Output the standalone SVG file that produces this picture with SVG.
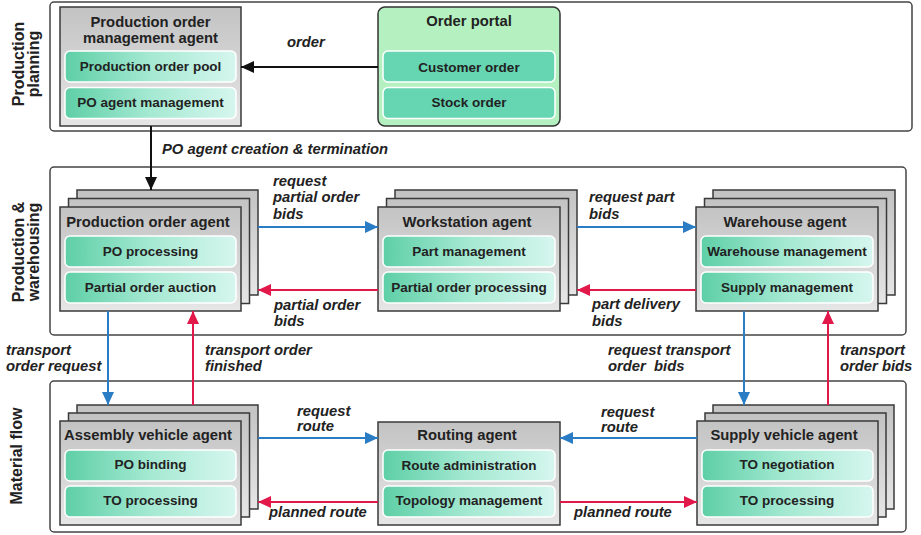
<svg xmlns="http://www.w3.org/2000/svg" width="921" height="535" viewBox="0 0 921 535">
<style>
text{font-family:"Liberation Sans",Arial,sans-serif;font-weight:bold;fill:#222}
.lane{fill:#fff;stroke:#444;stroke-width:1.5}
.lanelbl{font-size:16px;text-anchor:middle}
.box{fill:url(#gbox);stroke:#3a3a3a;stroke-width:1.5}
.sub{fill:url(#gsub);stroke:#fff;stroke-width:1.5}
.psub{fill:#66d5b2;stroke:#fff;stroke-width:1.5}
.title{font-size:14.8px;text-anchor:middle}
.st{font-size:13.5px;text-anchor:middle}
.lbl{font-size:14.8px;font-style:italic}
.blue{stroke:#2a7cc4;stroke-width:2;fill:none}
.red{stroke:#e2184a;stroke-width:2;fill:none}
.blk{stroke:#111;stroke-width:2;fill:none}
</style>
<defs>
<linearGradient id="gbox" x1="0" y1="0" x2="0" y2="1">
<stop offset="0" stop-color="#c3c3c3"/><stop offset="1" stop-color="#e6e6e6"/>
</linearGradient>
<linearGradient id="gsub" x1="0" y1="0" x2="1" y2="0">
<stop offset="0" stop-color="#5ecfa7"/><stop offset="0.5" stop-color="#a5e9d2"/><stop offset="1" stop-color="#d6f6ee"/>
</linearGradient>
<marker id="ab" markerUnits="userSpaceOnUse" markerWidth="14" markerHeight="12" refX="13" refY="6" orient="auto"><path d="M0,0 L13,6 L0,12 z" fill="#2a7cc4"/></marker>
<marker id="ar" markerUnits="userSpaceOnUse" markerWidth="14" markerHeight="12" refX="13" refY="6" orient="auto"><path d="M0,0 L13,6 L0,12 z" fill="#e2184a"/></marker>
<marker id="ak" markerUnits="userSpaceOnUse" markerWidth="14" markerHeight="12" refX="13" refY="6" orient="auto"><path d="M0,0 L13,6 L0,12 z" fill="#111"/></marker>
</defs>

<g id="lanes">
<rect class="lane" x="50" y="2" width="862" height="129" rx="4"/>
<rect class="lane" x="50" y="167" width="856" height="168" rx="4"/>
<rect class="lane" x="50" y="381" width="856" height="151" rx="4"/>
<text class="lanelbl" transform="translate(24,64) rotate(-90)">Production</text>
<text class="lanelbl" transform="translate(39,64) rotate(-90)">planning</text>
<text class="lanelbl" transform="translate(24,252) rotate(-90)">Production &amp;</text>
<text class="lanelbl" transform="translate(39,252) rotate(-90)">warehousing</text>
<text class="lanelbl" transform="translate(22,456) rotate(-90)">Material flow</text>
</g>

<g id="po-management-agent">
<rect class="box" x="60" y="7" width="181" height="119"/>
<text class="title" x="150.5" y="27">Production order</text>
<text class="title" x="150.5" y="43">management agent</text>
<rect class="sub" x="65" y="51" width="171" height="31" rx="5"/>
<text class="st" x="150.5" y="71">Production order pool</text>
<rect class="sub" x="65" y="87.5" width="171" height="31" rx="5"/>
<text class="st" x="150.5" y="107">PO agent management</text>
</g>

<g id="order-portal">
<rect x="378" y="7" width="182" height="119" rx="7" fill="#b5f1c0" stroke="#333" stroke-width="1.5"/>
<text class="title" x="469" y="26">Order portal</text>
<rect class="psub" x="383" y="51" width="172" height="31" rx="5"/>
<text class="st" x="469" y="72">Customer order</text>
<rect class="psub" x="383" y="87.5" width="172" height="31" rx="5"/>
<text class="st" x="469" y="107">Stock order</text>
</g>

<g id="production-order-agent">
<rect class="box" x="77" y="190" width="181" height="105"/>
<rect class="box" x="68.5" y="198.5" width="181" height="105"/>
<rect class="box" x="60" y="207" width="181" height="104"/>
<text class="title" x="148" y="227">Production order agent</text>
<rect class="sub" x="65" y="236" width="171" height="31" rx="5"/>
<text class="st" x="150.5" y="256">PO processing</text>
<rect class="sub" x="65" y="272" width="171" height="31" rx="5"/>
<text class="st" x="150.5" y="292">Partial order auction</text>
</g>

<g id="workstation-agent">
<rect class="box" x="395" y="190" width="182" height="105"/>
<rect class="box" x="386.5" y="198.5" width="182" height="105"/>
<rect class="box" x="378" y="207" width="182" height="104"/>
<text class="title" x="467" y="227">Workstation agent</text>
<rect class="sub" x="383" y="236" width="172" height="31" rx="5"/>
<text class="st" x="469" y="256">Part management</text>
<rect class="sub" x="383" y="272" width="172" height="31" rx="5"/>
<text class="st" x="469" y="292">Partial order processing</text>
</g>

<g id="warehouse-agent">
<rect class="box" x="713" y="190" width="182" height="105"/>
<rect class="box" x="704.5" y="198.5" width="182" height="105"/>
<rect class="box" x="696" y="207" width="182" height="104"/>
<text class="title" x="785" y="227">Warehouse agent</text>
<rect class="sub" x="701" y="236" width="172" height="31" rx="5"/>
<text class="st" x="787" y="256">Warehouse management</text>
<rect class="sub" x="701" y="272" width="172" height="31" rx="5"/>
<text class="st" x="787" y="292">Supply management</text>
</g>

<g id="assembly-vehicle-agent">
<rect class="box" x="77" y="405" width="181" height="104"/>
<rect class="box" x="68.5" y="413" width="181" height="104"/>
<rect class="box" x="60" y="421" width="181" height="104"/>
<text class="title" x="148" y="440">Assembly vehicle agent</text>
<rect class="sub" x="65" y="450" width="171" height="31" rx="5"/>
<text class="st" x="150.5" y="469">PO binding</text>
<rect class="sub" x="65" y="486" width="171" height="31" rx="5"/>
<text class="st" x="150.5" y="505">TO processing</text>
</g>

<g id="routing-agent">
<rect class="box" x="378" y="422" width="182" height="103"/>
<text class="title" x="467" y="440">Routing agent</text>
<rect class="sub" x="383" y="450" width="172" height="31" rx="5"/>
<text class="st" x="469" y="470">Route administration</text>
<rect class="sub" x="383" y="486" width="172" height="31" rx="5"/>
<text class="st" x="469" y="505">Topology management</text>
</g>

<g id="supply-vehicle-agent">
<rect class="box" x="713" y="405" width="181" height="104"/>
<rect class="box" x="705" y="413" width="181" height="104"/>
<rect class="box" x="697" y="421" width="181" height="104"/>
<text class="title" x="784" y="440">Supply vehicle agent</text>
<rect class="sub" x="702" y="450" width="171" height="31" rx="5"/>
<text class="st" x="787" y="469">TO negotiation</text>
<rect class="sub" x="702" y="486" width="171" height="31" rx="5"/>
<text class="st" x="787" y="505">TO processing</text>
</g>

<g id="connectors">
<path class="blk" d="M378,67 H241" marker-end="url(#ak)"/>
<path class="blk" d="M151,126 V190" marker-end="url(#ak)"/>
<path class="blue" d="M258,227 H378" marker-end="url(#ab)"/>
<path class="red" d="M378,290 H258" marker-end="url(#ar)"/>
<path class="blue" d="M577,227 H696" marker-end="url(#ab)"/>
<path class="red" d="M696,290 H577" marker-end="url(#ar)"/>
<path class="blue" d="M108,311 V405" marker-end="url(#ab)"/>
<path class="red" d="M193,405 V311" marker-end="url(#ar)"/>
<path class="blue" d="M744,311 V405" marker-end="url(#ab)"/>
<path class="red" d="M828,405 V311" marker-end="url(#ar)"/>
<path class="blue" d="M258,438 H378" marker-end="url(#ab)"/>
<path class="red" d="M378,502 H258" marker-end="url(#ar)"/>
<path class="blue" d="M697,438 H560" marker-end="url(#ab)"/>
<path class="red" d="M560,502 H697" marker-end="url(#ar)"/>
<text class="lbl" x="287" y="47">order</text>
<text class="lbl" x="162" y="154">PO agent creation &amp; termination</text>
<text class="lbl" x="273" y="186">request</text>
<text class="lbl" x="273" y="202">partial order</text>
<text class="lbl" x="273" y="219">bids</text>
<text class="lbl" x="274" y="310">partial order</text>
<text class="lbl" x="274" y="326">bids</text>
<text class="lbl" x="589" y="202">request part</text>
<text class="lbl" x="589" y="219">bids</text>
<text class="lbl" x="592" y="309">part delivery</text>
<text class="lbl" x="592" y="326">bids</text>
<text class="lbl" x="6" y="355">transport</text>
<text class="lbl" x="6" y="371">order request</text>
<text class="lbl" x="205" y="355">transport order</text>
<text class="lbl" x="205" y="371">finished</text>
<text class="lbl" x="608" y="355">request transport</text>
<text class="lbl" x="608" y="371" xml:space="preserve">order  bids</text>
<text class="lbl" x="840" y="355">transport</text>
<text class="lbl" x="840" y="371">order bids</text>
<text class="lbl" x="297" y="416">request</text>
<text class="lbl" x="297" y="431">route</text>
<text class="lbl" x="269" y="517">planned route</text>
<text class="lbl" x="601" y="417">request</text>
<text class="lbl" x="601" y="432">route</text>
<text class="lbl" x="574" y="517">planned route</text>
</g>
</svg>
